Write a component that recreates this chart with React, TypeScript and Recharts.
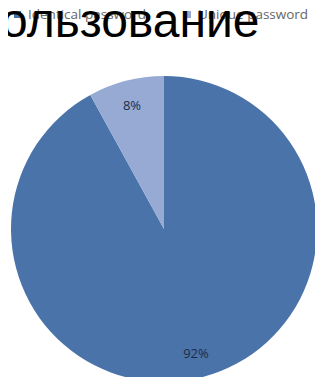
import React from 'react';
import { PieChart, Pie, Cell } from 'recharts';

const categories = ['Identical password', 'Unique password'];
const shares = [92, 8];
const colors = ['#4A73AA', '#96AAD3'];

const data = categories.map((name, i) => ({ name, value: shares[i] }));

const RAD = Math.PI / 180;

const renderLabel = (props: any) => {
  const { cx, cy, midAngle, outerRadius, value } = props;
  const r = outerRadius * 0.84;
  const x = cx + r * Math.cos(-midAngle * RAD);
  const y = cy + r * Math.sin(-midAngle * RAD);
  return (
    <text x={x} y={y} fill="#1F2B45" fontSize={13} fontFamily="Open Sans, sans-serif" textAnchor="middle" dominantBaseline="central">
      {`${value}%`}
    </text>
  );
};

export default function App() {
  return (
    <div style={{ position: 'relative', width: 323, height: 385, margin: -8, background: '#fff', overflow: 'hidden' }}>
      {/* legend sits under the big title, like in the source image */}
      <div
        style={{
          position: 'absolute',
          top: 4,
          left: 14,
          display: 'flex',
          fontFamily: 'Open Sans, sans-serif',
          fontSize: 13.5,
          lineHeight: '20px',
          color: '#666',
          whiteSpace: 'nowrap',
        }}
      >
        {categories.map((c, i) => (
          <div key={c} style={{ display: 'flex', alignItems: 'center', marginRight: 38 }}>
            <span style={{ width: 7, height: 7, background: colors[i], marginRight: 7, display: 'inline-block' }} />
            {c}
          </div>
        ))}
      </div>
      <PieChart width={323} height={385} margin={{ top: 0, right: 0, bottom: 0, left: 0 }}>
        <Pie
          data={data}
          dataKey="value"
          nameKey="name"
          cx={164}
          cy={229}
          outerRadius={153}
          startAngle={90}
          endAngle={-270}
          stroke="none"
          label={renderLabel}
          labelLine={false}
          isAnimationActive={false}
        >
          {data.map((d, i) => (
            <Cell key={d.name} fill={colors[i]} />
          ))}
        </Pie>
      </PieChart>
      <div
        style={{
          position: 'absolute',
          left: 1,
          top: 0,
          fontFamily: 'Liberation Sans, Arial, sans-serif',
          fontSize: 48,
          lineHeight: '41px',
          color: '#000',
          whiteSpace: 'nowrap',
        }}
      >
        ользование
      </div>
    </div>
  );
}
